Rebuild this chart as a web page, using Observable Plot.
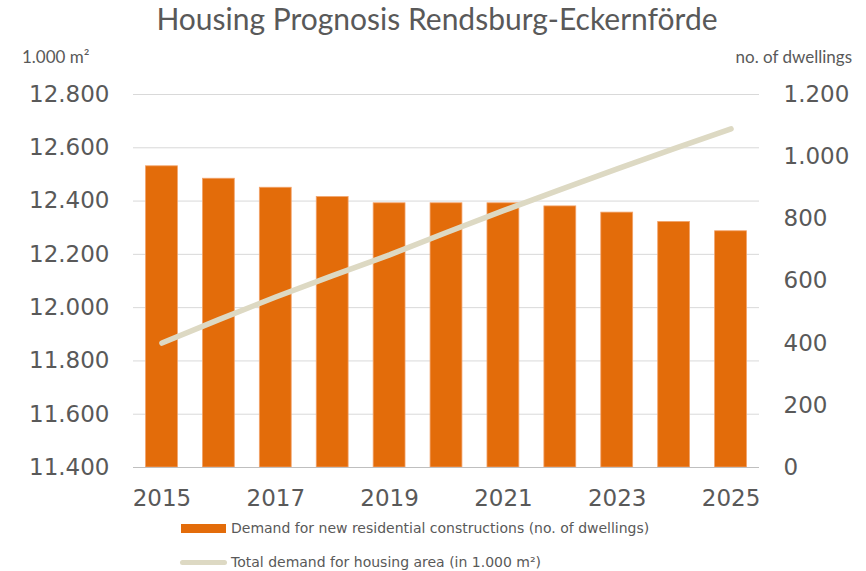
<!DOCTYPE html>
<html>
<head>
<meta charset="utf-8">
<script src="https://cdn.jsdelivr.net/npm/d3@7"></script>
<script src="https://cdn.jsdelivr.net/npm/@observablehq/plot@0.6"></script>
<style>
  html, body { margin: 0; padding: 0; background: #fff; }
  #wrap { position: relative; width: 866px; height: 571px; overflow: hidden; }
  #chart { position: absolute; left: 0; top: 0; }
  .title { position: absolute; left: 0; width: 874px; top: 0px; text-align: center;
           font-family: Lato, "Open Sans", sans-serif; font-size: 30px; color: #595959; }
  .unit { position: absolute; top: 46px; font-family: Lato, "Open Sans", sans-serif; font-size: 17px; color: #595959; }
  .legend { position: absolute; left: 180px; font-family: "DejaVu Sans", Verdana, sans-serif; font-size: 14px; color: #595959; display: flex; align-items: center; white-space: nowrap; }
  .sw-bar { width: 45px; height: 9px; background: #E36C0A; margin-right: 5px; margin-left: 1px; }
  .sw-line { width: 47px; height: 5px; background: #DDD9C3; border-radius: 3px; margin-right: 4px; }
</style>
</head>
<body>
<div id="wrap">
  <div id="chart"></div>
  <div class="title">Housing Prognosis Rendsburg-Eckernförde</div>
  <div class="unit" style="left:22px;">1.000 m²</div>
  <div class="unit" style="right:14px;">no. of dwellings</div>
  <div class="legend" style="top:520px;"><div class="sw-bar"></div>Demand for new residential constructions (no. of dwellings)</div>
  <div class="legend" style="top:554px;"><div class="sw-line"></div>Total demand for housing area (in 1.000 m²)</div>
</div>
<script>
const years = [2015, 2016, 2017, 2018, 2019, 2020, 2021, 2022, 2023, 2024, 2025];
const dwellings = [969, 929, 900, 870, 850, 850, 850, 840, 820, 790, 760];
const housingArea = [11867, 11955, 12040, 12120, 12198, 12282, 12364, 12443, 12521, 12597, 12671];
const leftTicks = [11400, 11600, 11800, 12000, 12200, 12400, 12600, 12800];
const rightTicks = [0, 200, 400, 600, 800, 1000, 1200];
const xTickYears = [2015, 2017, 2019, 2021, 2023, 2025];

const leftMin = 11400, leftMax = 12800, rightMax = 1200;
const toLeft = v => leftMin + v * (leftMax - leftMin) / rightMax;
const fmt = d3.formatLocale({decimal: ",", thousands: ".", grouping: [3]}).format(",");

const rows = years.map((y, i) => ({year: y, dw: dwellings[i], dwL: toLeft(dwellings[i]), area: housingArea[i]}));

const textColor = "#595959";
const fs = 23;
const chart = Plot.plot({
  width: 866,
  height: 571,
  marginTop: 94,
  marginBottom: 104,
  marginLeft: 133,
  marginRight: 107,
  style: {fontFamily: "'DejaVu Sans', Verdana, sans-serif", fontSize: fs + "px", color: textColor, background: "transparent"},
  x: {type: "band", domain: years, paddingInner: 0.44, paddingOuter: 0.22, round: false, label: null},
  y: {domain: [leftMin, leftMax], label: null},
  marks: [
    Plot.gridY(leftTicks, {stroke: "#D9D9D9", strokeOpacity: 1, strokeWidth: 1}),
    Plot.barY(rows, {x: "year", y1: leftMin, y2: "dwL", fill: "#E36C0A", stroke: "#F2A36B", strokeWidth: 0.8}),
    Plot.ruleY([leftMin], {stroke: "#BFBFBF", strokeWidth: 1}),
    Plot.line(rows, {x: "year", y: "area", stroke: "#DDD9C3", strokeWidth: 5.5, strokeLinecap: "round", strokeLinejoin: "round"}),
    Plot.axisY(leftTicks, {anchor: "left", tickSize: 0, tickPadding: 24, tickFormat: fmt, fill: textColor, fontSize: fs, fontFamily: "DejaVu Sans"}),
    Plot.axisY(rightTicks.map(toLeft), {anchor: "right", tickSize: 0, tickPadding: 24, tickFormat: (d, i) => fmt(rightTicks[i]), fill: textColor, fontSize: fs, fontFamily: "DejaVu Sans"}),
    Plot.axisX(xTickYears, {tickSize: 0, tickPadding: 22, tickFormat: d => String(d), fill: textColor, fontSize: fs, fontFamily: "DejaVu Sans"})
  ]
});
document.getElementById("chart").appendChild(chart);
</script>
</body>
</html>
